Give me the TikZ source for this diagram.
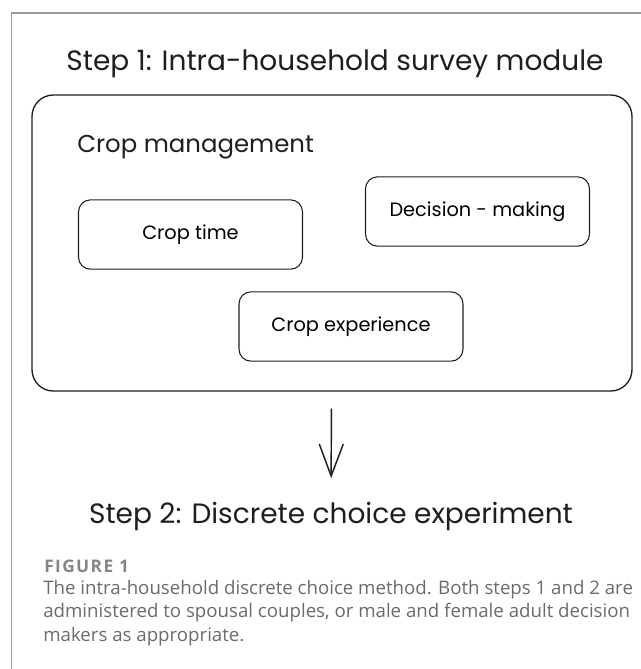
\documentclass[tikz,border=0pt]{standalone}
\usepackage{fontspec}
\setmainfont{Poppins}
\newfontfamily\capfont{Open Sans}
\newfontfamily\labfont[LetterSpace=8]{Open Sans}
\usetikzlibrary{arrows.meta}
\definecolor{ink}{HTML}{1E1E1E}
\definecolor{framegray}{HTML}{9A9A9A}
\definecolor{capgray}{HTML}{6B6B6B}
\definecolor{labgray}{HTML}{858585}
\begin{document}
\begin{tikzpicture}[x=0.75pt,y=-0.75pt,
  heading/.style={inner sep=0pt, text=ink, font=\fontsize{21}{25}\selectfont},
  groupbox/.style={draw=ink, line width=1pt, rounded corners=16pt, minimum width=450pt, minimum height=222pt},
  itembox/.style={draw=ink, line width=0.8pt, rounded corners=9pt, minimum width=168pt, minimum height=52pt, font=\fontsize{14.5}{17}\selectfont},
  flow/.style={draw=ink, line width=1.1pt, -{Straight Barb[length=24pt,width=18pt]}}]
\useasboundingbox (0,0) rectangle (641,669);
\draw[framegray, line width=1.2pt] (641,13) -- (11.5,13) -- (11.5,669);
% step 1
\node[heading] (step1) at (335,64) {Step 1: Intra-household survey module};
\node[groupbox] (crops) at (332,243) {};
\node[inner sep=0pt, anchor=base west, text=ink, font=\fontsize{18.3}{22}\selectfont] (mgmt) at (77,152) {Crop management};
\node[itembox] (croptime) at (190.5,234.5) {Crop time};
\node[itembox] (decision) at (477.5,211.5) {Decision - making};
\node[itembox] (cropexp) at (351,326.5) {Crop experience};
% step 2
\node[heading] (step2) at (331,516) {Step 2: Discrete choice experiment};
\draw[flow, shorten <=12.75pt, shorten >=17.5pt] (crops) -- (step2);
% caption
\node[inner sep=0pt, anchor=base west, text=labgray, font=\labfont\bfseries\fontsize{13}{15}\selectfont] (figlabel) at (44,572) {FIGURE 1};
\node[inner sep=0pt, anchor=north west, align=left, text=capgray, font=\capfont\fontsize{14}{17.5}\selectfont] (caption) at (43,580) {The intra-household discrete choice method. Both steps 1 and 2 are\\administered to spousal couples, or male and female adult decision\\makers as appropriate.};
\end{tikzpicture}
\end{document}
